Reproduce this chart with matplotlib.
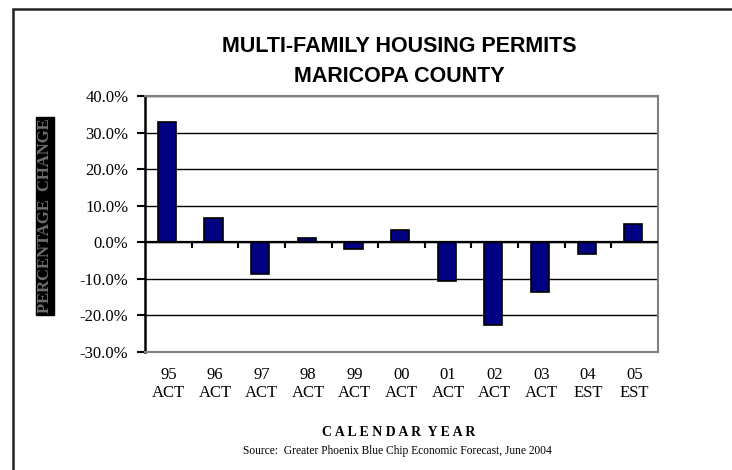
import numpy as np
import matplotlib
matplotlib.use("Agg")
import matplotlib.pyplot as plt
from matplotlib.patches import Rectangle

# ---------data-------------------
years = ["95", "96", "97", "98", "99", "00", "01", "02", "03", "04", "05"]
status = ["ACT", "ACT", "ACT", "ACT", "ACT", "ACT", "ACT", "ACT", "ACT", "EST", "EST"]
pct_change = [32.9, 6.7, -8.8, 1.3, -1.7, 3.4, -10.5, -22.5, -13.7, -3.3, 5.1]
y_ticks = [-30, -20, -10, 0, 10, 20, 30, 40]
# --------------------------------

W, H = 732, 470
fig = plt.figure(figsize=(W / 100, H / 100), dpi=100)
ax = fig.add_axes([145 / W, 1 - 352 / H, 513 / W, 256 / H])

x = np.arange(len(years))
ax.bar(x - 0.03, pct_change, width=0.39, color="#000080", edgecolor="black",
       linewidth=1.2, zorder=3)

ax.set_xlim(-0.5, len(years) - 0.5)
ax.set_ylim(-30, 40)
ax.set_yticks(y_ticks)
ax.set_yticklabels(["%.1f%%" % v for v in y_ticks], family="Liberation Serif", fontsize=12)
ax.yaxis.grid(True, color="black", linewidth=1)
ax.set_axisbelow(True)

ax.set_xticks(x)
ax.set_xticklabels(["%s\n%s" % (a, b) for a, b in zip(years, status)],
                   family="Liberation Serif", fontsize=12, linespacing=1.15)
ax.tick_params(axis="x", length=0, pad=11)
ax.tick_params(axis="y", length=6, width=1.5, direction="out", pad=6)

# zero line with little ticks between categories
ax.axhline(0, color="black", linewidth=1.6, zorder=4)
ax.plot(x[:-1] + 0.5, np.zeros(len(x) - 1), ls="none", marker=3, ms=4,
        mew=1.5, color="black", zorder=4)

for side in ["top", "right", "bottom"]:
    ax.spines[side].set_color("#808080")
    ax.spines[side].set_linewidth(1.5)
ax.spines["left"].set_color("black")
ax.spines["left"].set_linewidth(1.8)

fig.text(399 / W, 1 - 46 / H, "MULTI-FAMILY HOUSING PERMITS", ha="center", va="center",
         family="Liberation Sans", fontweight="bold", fontsize=15.5)
fig.text(399 / W, 1 - 76 / H, "MARICOPA COUNTY", ha="center", va="center",
         family="Liberation Sans", fontweight="bold", fontsize=15.5)

fig.text(45 / W, 1 - 216 / H, "PERCENTAGE  CHANGE", rotation=90, ha="center", va="center",
         family="Liberation Serif", fontweight="bold", fontsize=12, color="#6e6e6e",
         bbox=dict(facecolor="black", edgecolor="black", pad=1.0))

fig.text(399 / W, 1 - 433 / H, "C A L E N D A R  Y E A R", ha="center", va="center",
         family="Liberation Serif", fontweight="bold", fontsize=10)
fig.text(397 / W, 1 - 451 / H, "Source:  Greater Phoenix Blue Chip Economic Forecast, June 2004",
         ha="center", va="center", family="Liberation Serif", fontsize=8.3)

# outer frame
fig.patches.append(Rectangle((13 / W, -0.2), 2, 1.2 - 9 / H, transform=fig.transFigure,
                             fill=False, edgecolor="#222222", linewidth=1.8))

fig.savefig("out.png", dpi=100)
